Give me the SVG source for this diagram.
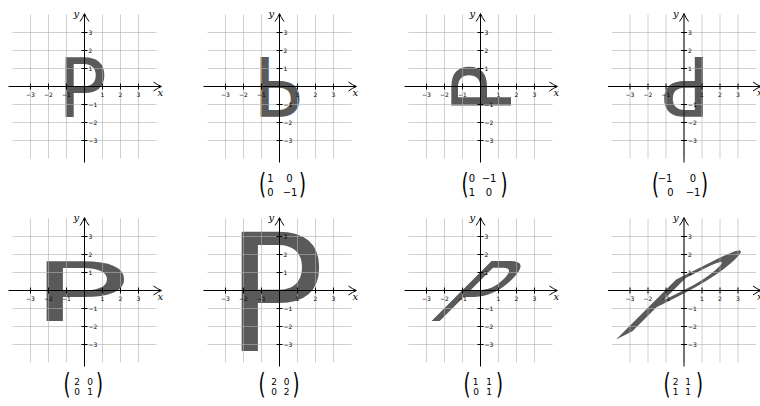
<svg xmlns="http://www.w3.org/2000/svg" xmlns:xlink="http://www.w3.org/1999/xlink" width="760" height="406" viewBox="0 0 760 406">
<style>
.p{font-family:"DejaVu Sans",sans-serif;font-size:82.3px;fill:#5a5a5a}
.grid{stroke:#b0b0b0;stroke-opacity:.6;stroke-width:1;fill:none}
.ax{stroke:#000;stroke-width:1;fill:none}
.tl{font-family:"DejaVu Sans",sans-serif;font-size:6px;fill:#000}
.tx{text-anchor:middle}
.lab{font-family:"DejaVu Serif","Liberation Serif",serif;font-style:italic;font-size:10px;fill:#000}
.m{font-family:"DejaVu Sans",sans-serif;font-size:10px;fill:#000;text-anchor:middle}
.ms{font-family:"DejaVu Sans",sans-serif;font-size:9px;fill:#000;text-anchor:middle}
.par{font-family:"DejaVu Sans",sans-serif;font-size:18px;fill:#000;text-anchor:middle}
</style>
<defs>
<g id="frame">
<path class="grid" d="M-54 -72V72M-36 -72V72M-18 -72V72M0 -72V72M18 -72V72M36 -72V72M54 -72V72M-72 -54H72M-72 -36H72M-72 -18H72M-72 0H72M-72 18H72M-72 36H72M-72 54H72"/>
<path class="ax" d="M-76 0H76M0 76V-72"/>
<path class="ax" d="M69 -4.5Q73 -1.5 77 0Q73 1.5 69 4.5M-4.5 -65Q-1.5 -69 0 -73Q1.5 -69 4.5 -65"/>
<path class="ax" d="M-54 -3V3M-36 -3V3M-18 -3V3M18 -3V3M36 -3V3M54 -3V3M-3 -54H3M-3 -36H3M-3 -18H3M-3 18H3M-3 36H3M-3 54H3"/>
<g class="tl tx">
<text x="-54" y="10">−3</text><text x="-36" y="10">−2</text><text x="-18" y="10">−1</text>
<text x="18" y="10">1</text><text x="36" y="10">2</text><text x="54" y="10">3</text>
</g>
<g class="tl">
<text x="4" y="-52">3</text><text x="4" y="-34">2</text><text x="4" y="-16">1</text>
<text x="4" y="20">−1</text><text x="4" y="38">−2</text><text x="4" y="56">−3</text>
</g>
<text class="lab" x="73" y="9">x</text>
<text class="lab" x="-11" y="-70">y</text>
</g>
</defs>

<g id="panel1" transform="translate(84.5,86.5)">
<text class="p" x="-27" y="30">P</text>
<use xlink:href="#frame"/>
</g>

<g id="panel2" transform="translate(279.5,86.5)">
<text class="p" x="-27" y="30" transform="matrix(1,0,0,-1,0,0)">P</text>
<use xlink:href="#frame"/>
</g>

<g id="panel3" transform="translate(480.5,86.5)">
<text class="p" x="-27" y="30" transform="matrix(0,-1,1,0,0,0)">P</text>
<use xlink:href="#frame"/>
</g>

<g id="panel4" transform="translate(684,86.5)">
<text class="p" x="-27" y="30" transform="matrix(-1,0,0,-1,0,0)">P</text>
<use xlink:href="#frame"/>
</g>

<g id="panel5" transform="translate(84.5,290.5)">
<text class="p" x="-27" y="30" transform="matrix(2,0,0,1,0,0)">P</text>
<use xlink:href="#frame"/>
</g>

<g id="panel6" transform="translate(279.5,290.5)">
<text class="p" x="-27" y="30" transform="matrix(2,0,0,2,0,0)">P</text>
<use xlink:href="#frame"/>
</g>

<g id="panel7" transform="translate(480.5,290.5)">
<text class="p" x="-27" y="30" transform="matrix(1,0,-1,1,0,0)">P</text>
<use xlink:href="#frame"/>
</g>

<g id="panel8" transform="translate(684,290.5)">
<text class="p" x="-27" y="30" transform="matrix(2,-1,-1,1,0,0)">P</text>
<use xlink:href="#frame"/>
</g>

<g id="matrix2">
<text class="par" transform="translate(262.5,194) scale(1,1.55)">(</text>
<text class="par" transform="translate(302.5,194) scale(1,1.55)">)</text>
<text class="m" x="270.5" y="182">1</text><text class="m" x="289.5" y="182">0</text>
<text class="m" x="270.5" y="196">0</text><text class="m" x="290" y="196">−1</text>
</g>
<g id="matrix3">
<text class="par" transform="translate(465,194) scale(1,1.55)">(</text>
<text class="par" transform="translate(504,194) scale(1,1.55)">)</text>
<text class="m" x="472" y="182">0</text><text class="m" x="489" y="182">−1</text>
<text class="m" x="472" y="196">1</text><text class="m" x="489" y="196">0</text>
</g>
<g id="matrix4">
<text class="par" transform="translate(655.5,194) scale(1,1.55)">(</text>
<text class="par" transform="translate(704.5,194) scale(1,1.55)">)</text>
<text class="m" x="665" y="182">−1</text><text class="m" x="693" y="182">0</text>
<text class="m" x="670.5" y="196">0</text><text class="m" x="693" y="196">−1</text>
</g>
<g id="matrix5">
<text class="par" transform="translate(67,394) scale(1,1.55)">(</text>
<text class="par" transform="translate(99.5,394) scale(1,1.55)">)</text>
<text class="ms" x="77" y="385">2</text><text class="ms" x="90" y="385">0</text>
<text class="ms" x="77" y="395">0</text><text class="ms" x="90" y="395">1</text>
</g>
<g id="matrix6">
<text class="par" transform="translate(262,394) scale(1,1.55)">(</text>
<text class="par" transform="translate(296,394) scale(1,1.55)">)</text>
<text class="ms" x="274" y="385">2</text><text class="ms" x="286.5" y="385">0</text>
<text class="ms" x="274" y="395">0</text><text class="ms" x="286.5" y="395">2</text>
</g>
<g id="matrix7">
<text class="par" transform="translate(467,394) scale(1,1.55)">(</text>
<text class="par" transform="translate(499.5,394) scale(1,1.55)">)</text>
<text class="ms" x="475.5" y="385">1</text><text class="ms" x="489" y="385">1</text>
<text class="ms" x="476" y="395">0</text><text class="ms" x="489" y="395">1</text>
</g>
<g id="matrix8">
<text class="par" transform="translate(667,394) scale(1,1.55)">(</text>
<text class="par" transform="translate(699.5,394) scale(1,1.55)">)</text>
<text class="ms" x="675.5" y="385">2</text><text class="ms" x="688" y="385">1</text>
<text class="ms" x="675.5" y="395">1</text><text class="ms" x="688" y="395">1</text>
</g>
</svg>
